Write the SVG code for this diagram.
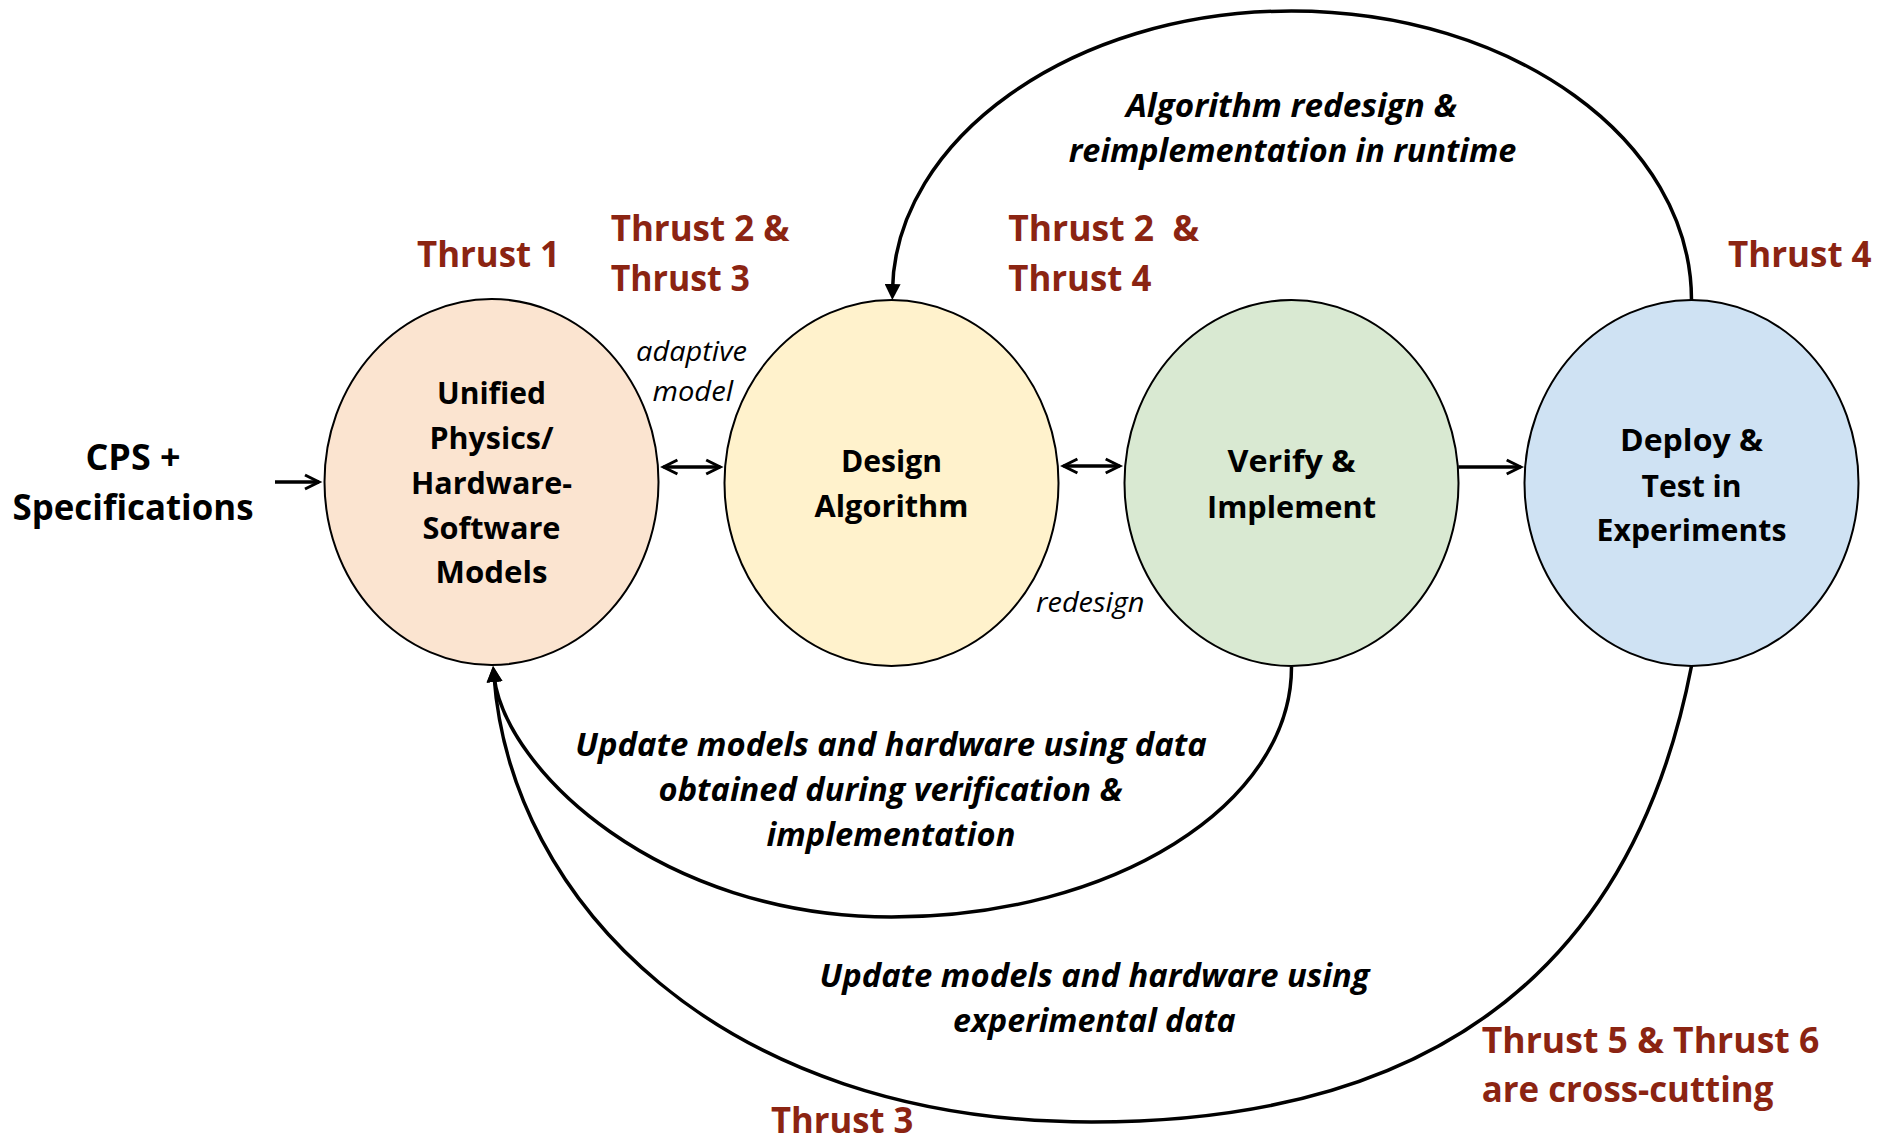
<svg xmlns="http://www.w3.org/2000/svg" width="1879" height="1143" viewBox="0 0 1879 1143">
  <style>
    text { font-family: "Open Sans", "Liberation Sans", sans-serif; }
    .node-shape { stroke: #000; stroke-width: 2; }
    .node-text { font-weight: 700; font-size: 31px; text-anchor: middle; fill: #000; }
    .cps { font-weight: 700; font-size: 36px; text-anchor: middle; fill: #000; }
    .thrust { font-weight: 700; font-size: 36px; fill: #8B2412; }
    .bi { font-weight: 700; font-style: italic; font-size: 32px; text-anchor: middle; fill: #000; }
    .it { font-weight: 400; font-style: italic; font-size: 28px; text-anchor: middle; fill: #000; }
    .conn { fill: none; stroke: #000; stroke-width: 3.5; }
  </style>
  <defs>
    <marker id="open" viewBox="0 0 24 20" markerWidth="24" markerHeight="20" refX="18" refY="10" markerUnits="userSpaceOnUse" orient="auto-start-reverse">
      <path d="M4,3 L18,10 L4,17" fill="none" stroke="#000" stroke-width="3" stroke-linejoin="miter"/>
    </marker>
    <marker id="tri" viewBox="0 0 16 16" markerWidth="16" markerHeight="16" refX="6" refY="8" markerUnits="userSpaceOnUse" orient="auto">
      <path d="M0,0 L16,8 L0,16 Z" fill="#000"/>
    </marker>
  </defs>

  <rect width="1879" height="1143" fill="#fff"/>

  <g id="connectors">
    <line class="conn" x1="275" y1="482" x2="319" y2="482" marker-end="url(#open)"/>
    <line class="conn" x1="663.4" y1="467" x2="720.2" y2="467" marker-start="url(#open)" marker-end="url(#open)"/>
    <line class="conn" x1="1063.4" y1="466" x2="1119.7" y2="466" marker-start="url(#open)" marker-end="url(#open)"/>
    <line class="conn" x1="1458.5" y1="467" x2="1520.7" y2="467" marker-end="url(#open)"/>
    <path class="conn" d="M1691.5,300 C1691.5,140 1512.4,11 1291.5,11 C1070.6,11 895,140 892.5,290" marker-end="url(#tri)"/>
    <path class="conn" d="M1291.5,667 C1291.5,805 1112.5,917 891.5,917 C660,917 505,770 494,676" marker-end="url(#tri)"/>
    <path class="conn" d="M1691.5,666 C1650,880 1520,1122 1091.5,1122 C720,1122 510,900 494,676" marker-end="url(#tri)"/>
  </g>

  <g id="node-models">
    <ellipse class="node-shape" cx="491.5" cy="482" rx="167" ry="183" fill="#FBE4D0"/>
    <text class="node-text" x="491.5" y="404" textLength="109" lengthAdjust="spacingAndGlyphs">Unified</text>
    <text class="node-text" x="491.5" y="449" textLength="124" lengthAdjust="spacingAndGlyphs">Physics/</text>
    <text class="node-text" x="491.5" y="494" textLength="161" lengthAdjust="spacingAndGlyphs">Hardware-</text>
    <text class="node-text" x="491.5" y="539" textLength="138" lengthAdjust="spacingAndGlyphs">Software</text>
    <text class="node-text" x="491.5" y="583" textLength="112" lengthAdjust="spacingAndGlyphs">Models</text>
  </g>

  <g id="node-design">
    <ellipse class="node-shape" cx="891.5" cy="483" rx="167" ry="183" fill="#FFF2CC"/>
    <text class="node-text" x="891.5" y="472" textLength="101" lengthAdjust="spacingAndGlyphs">Design</text>
    <text class="node-text" x="891.5" y="517" textLength="154" lengthAdjust="spacingAndGlyphs">Algorithm</text>
  </g>

  <g id="node-verify">
    <ellipse class="node-shape" cx="1291.5" cy="483" rx="167" ry="183" fill="#D9E9D2"/>
    <text class="node-text" x="1291.5" y="472" textLength="128" lengthAdjust="spacingAndGlyphs">Verify &amp;</text>
    <text class="node-text" x="1291.5" y="518" textLength="169" lengthAdjust="spacingAndGlyphs">Implement</text>
  </g>

  <g id="node-deploy">
    <ellipse class="node-shape" cx="1691.5" cy="483" rx="167" ry="183" fill="#CFE2F3"/>
    <text class="node-text" x="1691.5" y="451" textLength="143" lengthAdjust="spacingAndGlyphs">Deploy &amp;</text>
    <text class="node-text" x="1691.5" y="497" textLength="100" lengthAdjust="spacingAndGlyphs">Test in</text>
    <text class="node-text" x="1691.5" y="541" textLength="190" lengthAdjust="spacingAndGlyphs">Experiments</text>
  </g>

  <g id="input">
    <text class="cps" x="133" y="470" textLength="95" lengthAdjust="spacingAndGlyphs">CPS +</text>
    <text class="cps" x="133" y="520" textLength="241" lengthAdjust="spacingAndGlyphs">Specifications</text>
  </g>

  <g id="thrust-labels">
    <text class="thrust" x="417" y="266.7" textLength="143" lengthAdjust="spacingAndGlyphs">Thrust 1</text>
    <text class="thrust" x="610.7" y="240.7" textLength="178.7" lengthAdjust="spacingAndGlyphs">Thrust 2 &amp;</text>
    <text class="thrust" x="610.7" y="290.7" textLength="139.3" lengthAdjust="spacingAndGlyphs">Thrust 3</text>
    <text class="thrust" x="1008.3" y="240.5" textLength="190.7" lengthAdjust="spacingAndGlyphs" xml:space="preserve">Thrust 2  &amp;</text>
    <text class="thrust" x="1008.3" y="290.5" textLength="143" lengthAdjust="spacingAndGlyphs">Thrust 4</text>
    <text class="thrust" x="1728" y="266.7" textLength="143.6" lengthAdjust="spacingAndGlyphs">Thrust 4</text>
    <text class="thrust" x="771" y="1133" textLength="142.3" lengthAdjust="spacingAndGlyphs">Thrust 3</text>
    <text class="thrust" x="1481.7" y="1053.3" textLength="337.7" lengthAdjust="spacingAndGlyphs">Thrust 5 &amp; Thrust 6</text>
    <text class="thrust" x="1481.7" y="1101.7" textLength="291.7" lengthAdjust="spacingAndGlyphs">are cross-cutting</text>
  </g>

  <g id="connector-labels">
    <text class="bi" x="1291.5" y="117" textLength="331" lengthAdjust="spacingAndGlyphs">Algorithm redesign &amp;</text>
    <text class="bi" x="1292.5" y="161.7" textLength="447.6" lengthAdjust="spacingAndGlyphs">reimplementation in runtime</text>
    <text class="bi" x="891" y="756" textLength="631.6" lengthAdjust="spacingAndGlyphs">Update models and hardware using data</text>
    <text class="bi" x="890.6" y="800.7" textLength="464" lengthAdjust="spacingAndGlyphs">obtained during verification &amp;</text>
    <text class="bi" x="891" y="846" textLength="248.8" lengthAdjust="spacingAndGlyphs">implementation</text>
    <text class="bi" x="1094.5" y="987.3" textLength="550" lengthAdjust="spacingAndGlyphs">Update models and hardware using</text>
    <text class="bi" x="1094.4" y="1031.7" textLength="282.7" lengthAdjust="spacingAndGlyphs">experimental data</text>
    <text class="it" x="691.5" y="361" textLength="111" lengthAdjust="spacingAndGlyphs">adaptive</text>
    <text class="it" x="692.8" y="401" textLength="80.5" lengthAdjust="spacingAndGlyphs">model</text>
    <text class="it" x="1090.3" y="611.7" textLength="108.5" lengthAdjust="spacingAndGlyphs">redesign</text>
  </g>
</svg>
